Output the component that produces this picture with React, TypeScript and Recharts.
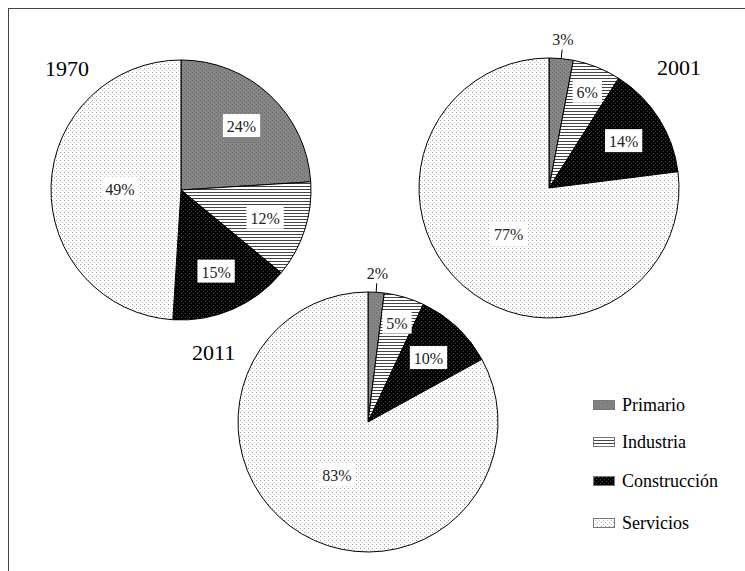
import React from 'react';
import { PieChart, Pie, Cell } from 'recharts';

const categories = ['Primario', 'Industria', 'Construcción', 'Servicios'];
const years = ['1970', '2001', '2011'];
const values1970 = [24, 12, 15, 49];
const values2001 = [3, 6, 14, 77];
const values2011 = [2, 5, 10, 83];

const patternIds = ['patPrimario', 'patIndustria', 'patConstruccion', 'patServicios'];
const FONT = '"Liberation Serif", "Times New Roman", serif';
const RADIAN = Math.PI / 180;

const toRows = (vals: number[]) => categories.map((name, i) => ({ name, value: vals[i] }));
const data1970 = toRows(values1970);
const data2001 = toRows(values2001);
const data2011 = toRows(values2011);

function renderLabel(props: any) {
  const { cx, cy, midAngle, outerRadius, percent, value } = props;
  const text = `${value}%`;
  const cos = Math.cos(-midAngle * RADIAN);
  const sin = Math.sin(-midAngle * RADIAN);
  if (percent < 0.04) {
    const x1 = cx + outerRadius * cos;
    const y1 = cy + outerRadius * sin;
    const x2 = cx + (outerRadius + 9) * cos;
    const y2 = cy + (outerRadius + 9) * sin;
    const tx = cx + (outerRadius + 19) * cos;
    const ty = cy + (outerRadius + 19) * sin;
    return (
      <g>
        <line x1={x1} y1={y1} x2={x2} y2={y2} stroke="#000" strokeWidth={1} />
        <text x={tx} y={ty} textAnchor="middle" dominantBaseline="central" fontFamily={FONT} fontSize={16} fill="#222">
          {text}
        </text>
      </g>
    );
  }
  let f = 0.68;
  if (percent > 0.4) f = 0.47;
  else if (percent < 0.08) f = 0.8;
  const x = cx + outerRadius * f * cos;
  const y = cy + outerRadius * f * sin;
  const digits = String(value).length;
  const w = digits * 8 + 13.3 + 8;
  const h = 23;
  return (
    <g>
      <rect x={x - w / 2} y={y - h / 2} width={w} height={h} fill="#fff" />
      <text x={x} y={y + 1} textAnchor="middle" dominantBaseline="central" fontFamily={FONT} fontSize={16} fill="#222">
        {text}
      </text>
    </g>
  );
}

function Patterns() {
  return (
    <svg width={0} height={0} style={{ position: 'absolute' }}>
      <defs>
        <pattern id="patPrimario" width={4} height={4} patternUnits="userSpaceOnUse">
          <rect width={4} height={4} fill="#858585" />
          <rect x={0} y={0} width={1} height={1} fill="#6a6a6a" />
          <rect x={2} y={2} width={1} height={1} fill="#6a6a6a" />
        </pattern>
        <pattern id="patIndustria" width={3} height={3} patternUnits="userSpaceOnUse">
          <rect width={3} height={3} fill="#fff" />
          <rect x={0} y={0} width={3} height={1} fill="#444" />
        </pattern>
        <pattern id="patConstruccion" width={4} height={4} patternUnits="userSpaceOnUse">
          <rect width={4} height={4} fill="#000" />
          <rect x={1} y={1} width={1} height={1} fill="#5a5a5a" />
          <rect x={3} y={3} width={1} height={1} fill="#3a3a3a" />
        </pattern>
        <pattern id="patServicios" width={4} height={4} patternUnits="userSpaceOnUse">
          <rect width={4} height={4} fill="#fff" />
          <rect x={0} y={0} width={1} height={1} fill="#9a9a9a" />
          <rect x={2} y={2} width={1} height={1} fill="#c4c4c4" />
        </pattern>
      </defs>
    </svg>
  );
}

const pies = [
  { data: data1970, cx: 181, cy: 190 },
  { data: data2001, cx: 549, cy: 188 },
  { data: data2011, cx: 368, cy: 422 },
];

const titlePos = [
  { left: 45, top: 57 },
  { left: 657, top: 56 },
  { left: 192, top: 341 },
];

const legendRowsTop = [395, 432, 471, 513];

export default function App() {
  return (
    <div style={{ position: 'absolute', left: 0, top: 0, width: 745, height: 571, overflow: 'hidden', background: '#fff' }}>
      <Patterns />
      <div
        style={{
          position: 'absolute',
          left: 8,
          top: 8,
          width: 760,
          height: 600,
          borderLeft: '1px solid #444',
          borderTop: '1px solid #444',
        }}
      />
      <div style={{ position: 'absolute', left: 0, top: 0 }}>
        <PieChart width={745} height={571} margin={{ top: 0, right: 0, bottom: 0, left: 0 }}>
          {pies.map((p, k) => (
            <Pie
              key={k}
              data={p.data}
              dataKey="value"
              nameKey="name"
              cx={p.cx}
              cy={p.cy}
              outerRadius={130}
              startAngle={90}
              endAngle={-270}
              stroke="#000"
              strokeWidth={1}
              labelLine={false}
              label={renderLabel}
              isAnimationActive={false}
            >
              {p.data.map((d, i) => (
                <Cell key={d.name} fill={`url(#${patternIds[i]})`} />
              ))}
            </Pie>
          ))}
        </PieChart>
      </div>
      {years.map((y, i) => (
        <div
          key={y}
          style={{
            position: 'absolute',
            left: titlePos[i].left,
            top: titlePos[i].top,
            fontFamily: FONT,
            fontSize: 22,
            lineHeight: '24px',
            color: '#000',
          }}
        >
          {y}
        </div>
      ))}
      {categories.map((c, i) => (
        <div
          key={c}
          style={{
            position: 'absolute',
            left: 593,
            top: legendRowsTop[i],
            display: 'flex',
            alignItems: 'center',
            fontFamily: FONT,
            fontSize: 18,
            lineHeight: '20px',
            color: '#000',
          }}
        >
          <svg width={22} height={10} style={{ marginRight: 7 }}>
            <rect x={0.5} y={0.5} width={21} height={9} fill={`url(#${patternIds[i]})`} stroke="#777" strokeWidth={1} />
          </svg>
          <span>{c}</span>
        </div>
      ))}
    </div>
  );
}
